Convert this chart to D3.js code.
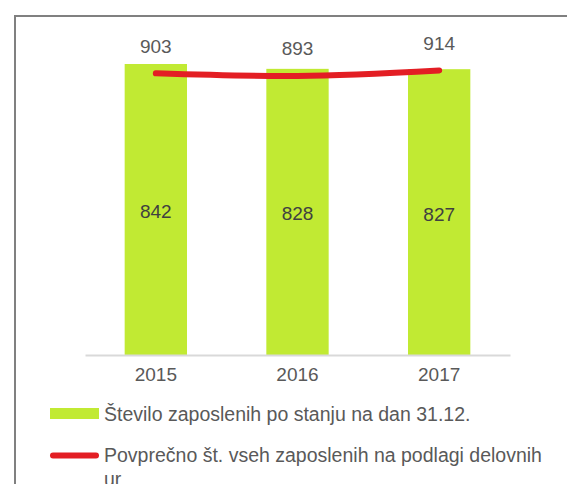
<!DOCTYPE html>
<html>
<head>
<meta charset="utf-8">
<script src="https://cdn.jsdelivr.net/npm/d3@7"></script>
<style>
  body { margin: 0; background: #fff; }
  svg { display: block; font-family: "Liberation Sans", Arial, sans-serif; }
</style>
</head>
<body>
<div id="chart"></div>
<script>
var years = ['2015', '2016', '2017'];
var employeesEnd = [842, 828, 827];     // bars
var employeesAvg = [903, 893, 914];     // red line
var legendLabels = [
    'Število zaposlenih po stanju na dan 31.12.',
    'Povprečno št. vseh zaposlenih na podlagi delovnih ur'
];

var width = 567, height = 484;
var green = '#c1ea33', red = '#e31e24', textCol = '#595959';

var svg = d3.select('#chart').append('svg')
    .attr('width', width)
    .attr('height', height);

// frame (only top and left edges are visible in the crop)
svg.append('rect')
    .attr('x', 15).attr('y', 16)
    .attr('width', width + 20).attr('height', height + 20)
    .attr('fill', 'none')
    .attr('stroke', '#808080')
    .attr('stroke-width', 2);

var x = d3.scaleBand()
    .domain(years)
    .range([85, 510])
    .paddingInner(0.56)
    .paddingOuter(0.28);

var y = d3.scaleLinear().domain([0, 1000]).range([355, 9.4]);
// secondary axis for the line (hidden)
var y2 = d3.scaleLinear().domain([800, 950]).range([100.3, 61]);

var bars = years.map(function(yr, i) { return { year: yr, v: employeesEnd[i] }; });
var pts = years.map(function(yr, i) { return { year: yr, v: employeesAvg[i] }; });

svg.selectAll('rect.bar').data(bars).enter().append('rect')
    .attr('class', 'bar')
    .attr('x', function(d) { return x(d.year); })
    .attr('y', function(d) { return y(d.v); })
    .attr('width', x.bandwidth())
    .attr('height', function(d) { return y(0) - y(d.v); })
    .attr('fill', green);

// axis baseline
var xAxis = svg.append('g')
    .attr('transform', 'translate(0,' + y(0) + ')')
    .call(d3.axisBottom(x).tickSize(0).tickPadding(13));
xAxis.select('.domain').attr('stroke', '#d9d9d9').attr('stroke-width', 2);
xAxis.selectAll('text')
    .attr('fill', textCol)
    .style('font-size', '19px')
    .style('font-family', '"Liberation Sans", Arial, sans-serif');

// bar value labels
svg.selectAll('text.barlbl').data(bars).enter().append('text')
    .attr('class', 'barlbl')
    .attr('x', function(d) { return x(d.year) + x.bandwidth() / 2; })
    .attr('y', function(d) { return (y(d.v) + y(0)) / 2 + 8.5; })
    .attr('text-anchor', 'middle')
    .attr('fill', '#404040')
    .style('font-size', '19px')
    .text(function(d) { return d.v; });

var line = d3.line()
    .x(function(d) { return x(d.year) + x.bandwidth() / 2; })
    .y(function(d) { return y2(d.v); })
    .curve(d3.curveCatmullRom.alpha(0.5));

svg.append('path')
    .datum(pts)
    .attr('d', line)
    .attr('fill', 'none')
    .attr('stroke', red)
    .attr('stroke-width', 6)
    .attr('stroke-linecap', 'round');

svg.selectAll('text.linelbl').data(pts).enter().append('text')
    .attr('class', 'linelbl')
    .attr('x', function(d) { return x(d.year) + x.bandwidth() / 2; })
    .attr('y', function(d) { return y2(d.v) - 20.5; })
    .attr('text-anchor', 'middle')
    .attr('fill', textCol)
    .style('font-size', '19px')
    .text(function(d) { return d.v; });

// legend
var lg = svg.append('g');
lg.append('rect')
    .attr('x', 50).attr('y', 408)
    .attr('width', 49).attr('height', 11)
    .attr('fill', green);
lg.append('line')
    .attr('x1', 53).attr('x2', 96)
    .attr('y1', 455.5).attr('y2', 455.5)
    .attr('stroke', red)
    .attr('stroke-width', 6)
    .attr('stroke-linecap', 'round');

function wrapText(sel, text, maxW, lineH) {
    var words = text.split(' ');
    var ts = sel.append('tspan').attr('x', sel.attr('x')).attr('dy', 0);
    var cur = [];
    words.forEach(function(w) {
        cur.push(w);
        ts.text(cur.join(' '));
        if (ts.node().getComputedTextLength() > maxW && cur.length > 1) {
            cur.pop();
            ts.text(cur.join(' '));
            cur = [w];
            ts = sel.append('tspan').attr('x', sel.attr('x')).attr('dy', lineH).text(w);
        }
    });
}

var legendY = [421, 461.5];
legendLabels.forEach(function(lbl, i) {
    var t = lg.append('text')
        .attr('x', 104)
        .attr('y', legendY[i])
        .attr('fill', textCol)
        .style('font-size', '19.5px');
    wrapText(t, lbl, 445, 24.5);
});
</script>
</body>
</html>
